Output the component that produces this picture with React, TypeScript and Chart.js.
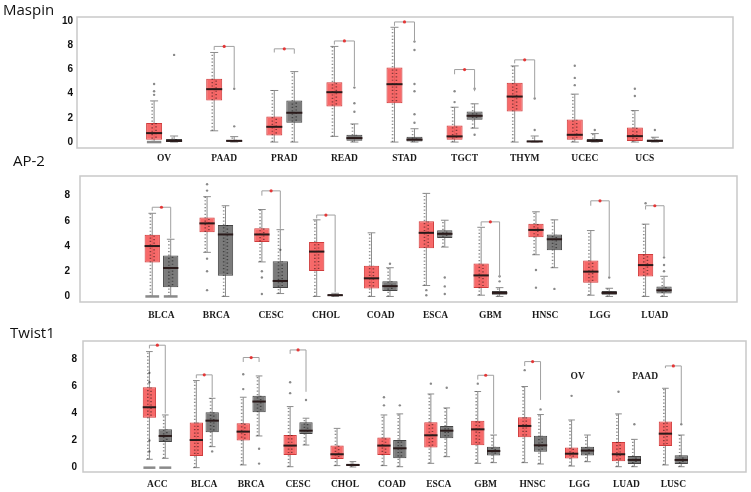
import React, { useEffect, useRef } from 'react';
import { Chart, registerables } from 'chart.js';

Chart.register(...registerables);

// Row = [q1, q3, median, whiskerLow, whiskerHigh]
type Row = number[];

// ---------------- Maspin ----------------
const maspinCategories = ['OV', 'PAAD', 'PRAD', 'READ', 'STAD', 'TGCT', 'THYM', 'UCEC', 'UCS'];
const maspinTicks = [0, 2, 4, 6, 8, 10];
const maspinTumor: Row[] = [
  [0.2, 1.57, 0.74, 0, 3.4],
  [3.43, 5.22, 4.37, 0.93, 7.4],
  [0.55, 2.12, 1.26, 0, 4.26],
  [2.94, 4.95, 4.12, 0.47, 7.9],
  [3.21, 6.15, 4.78, 0, 9.48],
  [0.19, 1.37, 0.47, 0, 2.88],
  [2.53, 4.89, 3.76, 0, 6.29],
  [0.19, 1.87, 0.6, 0, 3.96],
  [0.08, 1.21, 0.49, 0, 2.6],
];
const maspinNormal: Row[] = [
  [0.0, 0.25, 0.1, 0, 0.5],
  [0.02, 0.2, 0.1, 0, 0.45],
  [1.6, 3.43, 2.42, 0, 5.82],
  [0.11, 0.6, 0.33, 0, 1.5],
  [0.05, 0.44, 0.2, 0, 1.1],
  [1.84, 2.53, 2.17, 1.15, 3.16],
  [0.0, 0.13, 0.05, 0, 0.5],
  [0.02, 0.25, 0.1, 0, 0.7],
  [0.02, 0.22, 0.1, 0, 0.4],
];
// [category, top, left drop, right drop]
const maspinBrackets = [
  [1, 7.9, 7.6, 4.5],
  [2, 7.7, 7.4, 7.3],
  [3, 8.35, 8.05, 4.6],
  [4, 9.92, 9.6, 8.3],
  [5, 5.99, 5.6, 4.2],
  [6, 6.79, 6.5, 3.6],
];
// [category, group (0 tumor / 1 normal), value]
const maspinOutliers = [
  [0, 0, 4.8], [0, 0, 4.2], [0, 0, 3.9], [0, 1, 7.2],
  [1, 1, 4.4], [1, 1, 1.3],
  [3, 1, 4.5], [3, 1, 3.2], [3, 1, 2.5],
  [4, 1, 8.3], [4, 1, 7.6], [4, 1, 4.8], [4, 1, 4.2], [4, 1, 2.3], [4, 1, 1.6],
  [5, 0, 4.2], [5, 0, 3.3], [5, 1, 4.4], [5, 1, 0.6],
  [6, 1, 3.6], [6, 1, 1.0],
  [7, 0, 6.3], [7, 0, 5.3], [7, 0, 4.7], [7, 1, 1.0],
  [8, 0, 4.4], [8, 0, 3.8], [8, 1, 1.0],
];
const maspinZeroRows: number[][] = [[0, 0]];

// ---------------- AP-2 ----------------
const ap2Categories = ['BLCA', 'BRCA', 'CESC', 'CHOL', 'COAD', 'ESCA', 'GBM', 'HNSC', 'LGG', 'LUAD'];
const ap2Ticks = [0, 2, 4, 6, 8];
const ap2Tumor: Row[] = [
  [2.69, 4.9, 4.0, 0, 6.6],
  [5.1, 6.26, 5.8, 3.5, 7.92],
  [4.33, 5.41, 4.92, 2.74, 6.9],
  [2.03, 4.33, 3.56, 0, 6.08],
  [0.64, 2.44, 1.44, 0, 5.05],
  [3.82, 5.97, 5.05, 0.87, 8.18],
  [0.67, 2.62, 1.67, 0.1, 5.49],
  [4.69, 5.77, 5.28, 3.31, 6.72],
  [1.08, 2.85, 1.97, 0.1, 5.23],
  [1.59, 3.36, 2.49, 0, 5.74],
];
const ap2Normal: Row[] = [
  [0.74, 3.26, 2.26, 0, 4.54],
  [1.64, 5.67, 4.92, 0, 7.2],
  [0.67, 2.79, 1.23, 0.23, 5.3],
  [0.03, 0.18, 0.1, 0, 0.25],
  [0.44, 1.2, 0.82, 0, 2.28],
  [4.64, 5.26, 4.97, 3.92, 6.05],
  [0.13, 0.44, 0.28, 0, 0.7],
  [3.67, 4.92, 4.54, 2.28, 6.08],
  [0.13, 0.44, 0.28, 0, 0.65],
  [0.23, 0.79, 0.49, 0, 1.6],
];
const ap2Brackets = [
  [0, 7.08, 6.8, 4.6],
  [2, 8.38, 8.0, 5.36],
  [3, 6.46, 6.2, 0.36],
  [6, 5.92, 5.6, 1.5],
  [8, 7.59, 7.2, 1.6],
  [9, 7.2, 6.9, 3.2],
];
const ap2Outliers = [
  [1, 0, 8.9], [1, 0, 8.4], [1, 0, 3.0], [1, 0, 2.0], [1, 0, 0.5],
  [2, 0, 2.0], [2, 0, 1.5], [2, 0, 0.2], [2, 1, 3.7],
  [4, 1, 2.6],
  [5, 0, 0.5], [5, 0, 0.1], [5, 1, 1.5], [5, 1, 0.8], [5, 1, 0.2],
  [6, 1, 1.6], [6, 1, 1.2],
  [7, 0, 2.1], [7, 0, 0.7], [7, 1, 0.6],
  [8, 1, 1.5],
  [9, 0, 7.4], [9, 1, 2.0], [9, 1, 2.5], [9, 1, 3.1],
];
const ap2ZeroRows: number[][] = [[0, 0], [0, 1]];

// ---------------- Twist1 ----------------
const twistCategories = ['ACC', 'BLCA', 'BRCA', 'CESC', 'CHOL', 'COAD', 'ESCA', 'GBM', 'HNSC', 'LGG', 'LUAD', 'LUSC'];
const twistTicks = [0, 2, 4, 6, 8];
const twistTumor: Row[] = [
  [3.69, 5.94, 4.46, 0.62, 8.57],
  [0.86, 3.33, 2.04, 0, 6.43],
  [2.0, 3.28, 2.66, 0.2, 5.2],
  [0.94, 2.41, 1.63, 0.07, 4.51],
  [0.64, 1.63, 0.99, 0.15, 2.9],
  [0.94, 2.22, 1.63, 0.15, 3.89],
  [1.48, 3.35, 2.39, 0.32, 5.44],
  [1.65, 3.47, 2.83, 0.32, 5.62],
  [2.24, 3.72, 3.08, 0.37, 5.99],
  [0.67, 1.48, 1.03, 0.12, 3.52],
  [0.47, 1.9, 0.99, 0.07, 3.97],
  [1.6, 3.4, 2.51, 0.2, 5.86],
];
const twistNormal: Row[] = [
  [1.9, 2.83, 2.34, 0.69, 3.89],
  [2.61, 4.09, 3.47, 1.55, 5.12],
  [4.09, 5.3, 4.88, 2.34, 6.77],
  [2.49, 3.35, 2.73, 1.67, 3.65],
  [0.12, 0.28, 0.2, 0.05, 0.45],
  [0.69, 2.04, 1.43, 0.07, 3.97],
  [2.17, 3.08, 2.73, 0.81, 4.41],
  [0.89, 1.55, 1.23, 0.37, 2.41],
  [1.18, 2.36, 1.65, 0.27, 3.92],
  [0.89, 1.55, 1.26, 0.44, 2.41],
  [0.27, 0.86, 0.57, 0.07, 2.09],
  [0.27, 0.91, 0.57, 0.07, 2.41],
];
const twistBrackets = [
  [0, 9.04, 8.8, 4.0],
  [1, 6.85, 6.6, 5.2],
  [2, 8.13, 7.8, 7.8],
  [3, 8.69, 8.4, 5.6],
  [7, 6.82, 6.5, 2.5],
  [8, 7.83, 7.5, 5.0],
  [11, 7.51, 7.35, 3.3],
];
const twistOutliers = [
  [0, 0, 7.0], [0, 0, 6.3], [0, 0, 2.0], [0, 0, 1.2],
  [1, 1, 1.2],
  [2, 0, 6.9], [2, 0, 5.8], [2, 1, 1.4], [2, 1, 0.3],
  [3, 0, 6.3], [3, 0, 5.5], [3, 1, 5.0],
  [5, 0, 4.6], [5, 0, 5.2], [5, 1, 4.6],
  [6, 0, 6.2], [6, 1, 5.9],
  [7, 0, 6.2],
  [8, 0, 7.2], [8, 1, 4.3],
  [9, 0, 5.3],
  [10, 0, 5.6], [10, 1, 3.2],
  [11, 1, 3.2],
];
const twistZeroRows: number[][] = [[0, 0], [0, 1]];
// stray labels inside the Twist1 panel: [text, x (category units), y (value)]
const twistNotes: [string, number, number][] = [['OV', 8.96, 6.7], ['PAAD', 10.4, 6.7]];

// ---------------- panel layout ----------------
type Panel = {
  title: string;
  titleLeft: number;
  titleTop: number;
  top: number;
  height: number;
  frameLeft: number;
  frameTop: number;
  frameRight: number;
  frameBottom: number;
  xMin: number;
  xMax: number;
  yMin: number;
  yMax: number;
  yTickPad: number;
  xTickPad: number;
  catPct: number;
  barPct: number;
  categories: string[];
  ticks: number[];
  tumor: Row[];
  normal: Row[];
  brackets: number[][];
  outliers: number[][];
  zeroRows: number[][];
  notes: [string, number, number][];
};

const panels: Panel[] = [
  {
    title: 'Maspin', titleLeft: 3, titleTop: 2, top: 0, height: 168,
    frameLeft: 77, frameTop: 17, frameRight: 733, frameBottom: 148,
    xMin: -0.843, xMax: 8.86, yMin: -0.49, yMax: 10.33, yTickPad: 4, xTickPad: 5,
    catPct: 0.666, barPct: 0.8,
    categories: maspinCategories, ticks: maspinTicks, tumor: maspinTumor, normal: maspinNormal,
    brackets: maspinBrackets, outliers: maspinOutliers, zeroRows: maspinZeroRows, notes: [],
  },
  {
    title: 'AP-2', titleLeft: 13, titleTop: 153, top: 160, height: 165,
    frameLeft: 80, frameTop: 172, frameRight: 737, frameBottom: 302,
    xMin: -0.887, xMax: 9.9, yMin: -0.44, yMax: 9.56, yTickPad: 10, xTickPad: 8,
    catPct: 0.673, barPct: 0.83,
    categories: ap2Categories, ticks: ap2Ticks, tumor: ap2Tumor, normal: ap2Normal,
    brackets: ap2Brackets, outliers: ap2Outliers, zeroRows: ap2ZeroRows, notes: [],
  },
  {
    title: 'Twist1', titleLeft: 10, titleTop: 325, top: 325, height: 167,
    frameLeft: 83, frameTop: 341, frameRight: 746, frameBottom: 472,
    xMin: -0.996, xMax: 11.96, yMin: -0.32, yMax: 9.35, yTickPad: 6, xTickPad: 7,
    catPct: 0.676, barPct: 0.84,
    categories: twistCategories, ticks: twistTicks, tumor: twistTumor, normal: twistNormal,
    brackets: twistBrackets, outliers: twistOutliers, zeroRows: twistZeroRows, notes: twistNotes,
  },
];

const TUMOR_FILL = 'rgba(246, 84, 84, 0.88)';
const TUMOR_BORDER = 'rgba(205, 50, 50, 0.95)';
const NORMAL_FILL = 'rgba(112, 112, 112, 0.92)';
const NORMAL_BORDER = 'rgba(70, 70, 70, 1)';

function makePlugin(p: Panel) {
  const groups = [p.tumor, p.normal];
  return {
    id: 'boxExtras',
    beforeDatasetsDraw(chart: any) {
      const ctx = chart.ctx;
      const a = chart.chartArea;
      const y = chart.scales.y;
      ctx.save();
      ctx.strokeStyle = '#c9c9c9';
      ctx.lineWidth = 1.5;
      ctx.strokeRect(a.left, a.top, a.right - a.left, a.bottom - a.top);
      groups.forEach((rows, d) => {
        const meta = chart.getDatasetMeta(d);
        rows.forEach((r, i) => {
          const bar = meta.data[i];
          if (!bar) return;
          const x = bar.x;
          const w = bar.width;
          const yl = y.getPixelForValue(r[3]);
          const yh = y.getPixelForValue(r[4]);
          ctx.strokeStyle = '#8c8c8c';
          ctx.lineWidth = 1;
          ctx.beginPath();
          ctx.moveTo(x, yl);
          ctx.lineTo(x, yh);
          ctx.moveTo(x - w * 0.25, yl);
          ctx.lineTo(x + w * 0.25, yl);
          ctx.moveTo(x - w * 0.25, yh);
          ctx.lineTo(x + w * 0.25, yh);
          ctx.stroke();
        });
      });
      ctx.restore();
    },
    afterDatasetsDraw(chart: any) {
      const ctx = chart.ctx;
      const y = chart.scales.y;
      const xs = chart.scales.x;
      ctx.save();
      // dotted strips standing for the jittered samples, then medians
      groups.forEach((rows, d) => {
        const meta = chart.getDatasetMeta(d);
        rows.forEach((r, i) => {
          const bar = meta.data[i];
          if (!bar) return;
          const x = bar.x;
          const w = bar.width;
          const yl = y.getPixelForValue(r[3]);
          const yh = y.getPixelForValue(r[4]);
          const yq1 = y.getPixelForValue(r[0]);
          const yq3 = y.getPixelForValue(r[1]);
          ctx.setLineDash([1.2, 2.2]);
          ctx.strokeStyle = 'rgba(0,0,0,0.45)';
          ctx.lineWidth = 1.6;
          ctx.beginPath();
          ctx.moveTo(x - w * 0.12, yl);
          ctx.lineTo(x - w * 0.12, yh);
          ctx.stroke();
          ctx.lineDashOffset = 1.5;
          ctx.beginPath();
          ctx.moveTo(x + w * 0.12, yq1);
          ctx.lineTo(x + w * 0.12, yq3);
          ctx.stroke();
          ctx.lineDashOffset = 0;
          ctx.setLineDash([]);
          const ym = y.getPixelForValue(r[2]);
          ctx.strokeStyle = '#2a1a1a';
          ctx.lineWidth = 2;
          ctx.beginPath();
          ctx.moveTo(x - w / 2, ym);
          ctx.lineTo(x + w / 2, ym);
          ctx.stroke();
        });
      });
      // rows of samples sitting at zero
      p.zeroRows.forEach(([c, g]) => {
        const bar = chart.getDatasetMeta(g).data[c];
        if (!bar) return;
        const y0 = y.getPixelForValue(0);
        ctx.strokeStyle = '#8a8a8a';
        ctx.lineWidth = 2.5;
        ctx.beginPath();
        ctx.moveTo(bar.x - bar.width * 0.45, y0);
        ctx.lineTo(bar.x + bar.width * 0.45, y0);
        ctx.stroke();
      });
      // individual outlying samples
      ctx.fillStyle = 'rgba(40,40,40,0.55)';
      p.outliers.forEach(([c, g, v]) => {
        const bar = chart.getDatasetMeta(g).data[c];
        if (!bar) return;
        ctx.beginPath();
        ctx.arc(bar.x, y.getPixelForValue(v), 1.2, 0, Math.PI * 2);
        ctx.fill();
      });
      // significance brackets
      p.brackets.forEach(([c, top, ld, rd]) => {
        const b0 = chart.getDatasetMeta(0).data[c];
        const b1 = chart.getDatasetMeta(1).data[c];
        if (!b0 || !b1) return;
        const yt = y.getPixelForValue(top);
        ctx.strokeStyle = '#a0a0a0';
        ctx.lineWidth = 1;
        ctx.beginPath();
        ctx.moveTo(b0.x, y.getPixelForValue(ld));
        ctx.lineTo(b0.x, yt);
        ctx.lineTo(b1.x, yt);
        ctx.lineTo(b1.x, y.getPixelForValue(rd));
        ctx.stroke();
        ctx.fillStyle = 'rgba(230,40,40,0.9)';
        ctx.beginPath();
        ctx.arc((b0.x + b1.x) / 2, yt, 1.6, 0, Math.PI * 2);
        ctx.fill();
      });
      // stray labels
      ctx.fillStyle = '#222';
      ctx.font = 'bold 9.5px "Liberation Serif", "DejaVu Serif", serif';
      ctx.textAlign = 'center';
      ctx.textBaseline = 'middle';
      p.notes.forEach(([t, nx, ny]) => {
        ctx.fillText(t, xs.getPixelForValue(nx), y.getPixelForValue(ny));
      });
      ctx.restore();
    },
  };
}

function BoxPanel({ p }: { p: Panel }) {
  const ref = useRef<HTMLCanvasElement | null>(null);
  useEffect(() => {
    const canvas = ref.current;
    if (!canvas) return;
    const relTop = p.frameTop - p.top;
    const xAxisHeight = p.height - (p.frameBottom - p.top);
    const chart = new Chart(canvas, {
      type: 'bar',
      data: {
        datasets: [
          {
            label: 'Tumor',
            data: p.tumor.map((r, i) => ({ x: i, y: [r[0], r[1]] })) as any,
            backgroundColor: TUMOR_FILL,
            borderColor: TUMOR_BORDER,
            borderWidth: 1,
            borderSkipped: false,
            categoryPercentage: p.catPct,
            barPercentage: p.barPct,
          },
          {
            label: 'Normal',
            data: p.normal.map((r, i) => ({ x: i, y: [r[0], r[1]] })) as any,
            backgroundColor: NORMAL_FILL,
            borderColor: NORMAL_BORDER,
            borderWidth: 1,
            borderSkipped: false,
            categoryPercentage: p.catPct,
            barPercentage: p.barPct,
          },
        ],
      },
      options: {
        animation: false,
        responsive: false,
        devicePixelRatio: 1,
        events: [],
        layout: { padding: { left: 0, top: relTop, right: 751 - p.frameRight, bottom: 0 } },
        plugins: { legend: { display: false }, tooltip: { enabled: false }, title: { display: false } },
        scales: {
          x: {
            type: 'linear',
            min: p.xMin,
            max: p.xMax,
            grid: { display: false, drawTicks: false },
            border: { display: false },
            afterBuildTicks: (s: any) => {
              s.ticks = p.categories.map((_, i) => ({ value: i }));
            },
            afterFit: (s: any) => {
              s.height = xAxisHeight;
            },
            ticks: {
              autoSkip: false,
              maxRotation: 0,
              padding: p.xTickPad,
              color: '#1a1a1a',
              font: { family: '"Liberation Serif", "DejaVu Serif", serif', size: 9.5, weight: 'bold' },
              callback: (v: any) => p.categories[Math.round(Number(v))] ?? '',
            },
          },
          y: {
            type: 'linear',
            min: p.yMin,
            max: p.yMax,
            grid: { display: false, drawTicks: false },
            border: { display: false },
            afterBuildTicks: (s: any) => {
              s.ticks = p.ticks.map((v) => ({ value: v }));
            },
            afterFit: (s: any) => {
              s.width = p.frameLeft;
            },
            ticks: {
              padding: p.yTickPad,
              color: '#111',
              font: { family: '"Liberation Sans", Arial, sans-serif', size: 10, weight: 'bold' },
              callback: (v: any) => String(v),
            },
          },
        },
      } as any,
      plugins: [makePlugin(p)],
    });
    return () => chart.destroy();
  }, [p]);
  return (
    <canvas
      ref={ref}
      width={751}
      height={p.height}
      style={{ position: 'absolute', left: 0, top: p.top, width: 751, height: p.height }}
    />
  );
}

export default function App() {
  return (
    <div style={{ position: 'absolute', left: 0, top: 0, width: 751, height: 492, background: '#fff', overflow: 'hidden' }}>
      {panels.map((p) => (
        <BoxPanel key={p.title} p={p} />
      ))}
      {panels.map((p) => (
        <div
          key={'t' + p.title}
          style={{
            position: 'absolute',
            left: p.titleLeft,
            top: p.titleTop,
            fontFamily: '"Open Sans", "Noto Sans", sans-serif',
            fontSize: 15,
            lineHeight: '15px',
            color: '#111',
            whiteSpace: 'nowrap',
          }}
        >
          {p.title}
        </div>
      ))}
    </div>
  );
}
